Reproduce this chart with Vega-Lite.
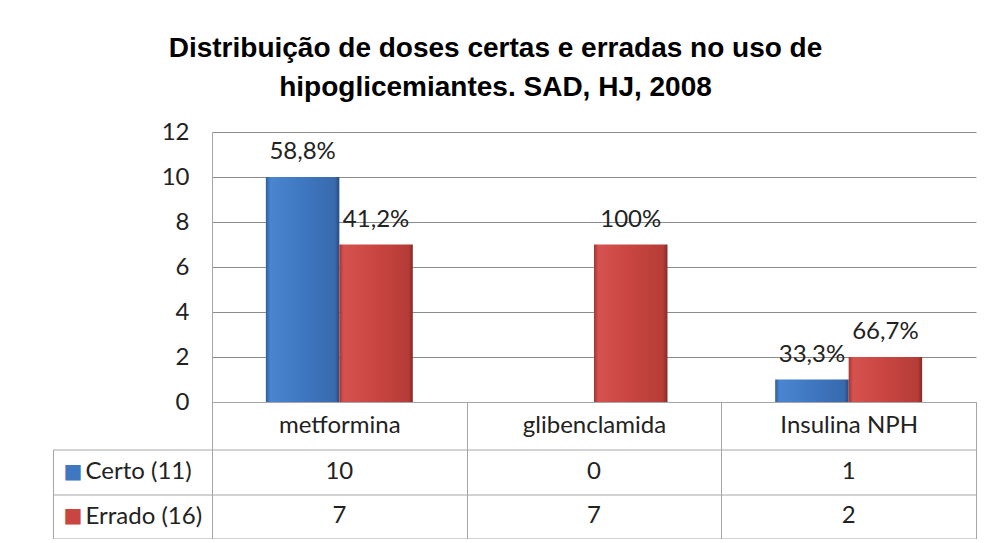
{
  "$schema": "https://vega.github.io/schema/vega-lite/v6.json",
  "background": "white",
  "padding": {"left": 52, "top": 35, "right": 10, "bottom": 0},
  "title": {
    "text": ["Distribuição de doses certas e erradas no uso de", "hipoglicemiantes. SAD, HJ, 2008"],
    "font": "Liberation Sans",
    "fontSize": 28,
    "fontWeight": "bold",
    "color": "#000000",
    "anchor": "middle",
    "lineHeight": 39,
    "dx": -19,
    "offset": 18
  },
  "data": {
    "values": [
      {"cat": "metformina", "serie": "Certo", "legenda": "Certo (11)", "valor": 10, "pct": "58,8%"},
      {"cat": "metformina", "serie": "Errado", "legenda": "Errado (16)", "valor": 7, "pct": "41,2%"},
      {"cat": "glibenclamida", "serie": "Certo", "legenda": "Certo (11)", "valor": 0, "pct": ""},
      {"cat": "glibenclamida", "serie": "Errado", "legenda": "Errado (16)", "valor": 7, "pct": "100%"},
      {"cat": "Insulina NPH", "serie": "Certo", "legenda": "Certo (11)", "valor": 1, "pct": "33,3%"},
      {"cat": "Insulina NPH", "serie": "Errado", "legenda": "Errado (16)", "valor": 2, "pct": "66,7%"}
    ]
  },
  "bounds": "flush",
  "spacing": 47.5,
  "vconcat": [
    {
      "width": 764,
      "height": 270,
      "encoding": {
        "x": {
          "field": "cat", "type": "nominal",
          "sort": ["metformina", "glibenclamida", "Insulina NPH"],
          "scale": {"type": "band", "paddingInner": 0, "paddingOuter": 0},
          "axis": {
            "title": null, "labelAngle": 0, "tickBand": "extent", "tickSize": 47.5,
            "tickColor": "#a6a6a6", "domainColor": "#a6a6a6", "labelPadding": -36,
            "labelFont": "Lato", "labelFontSize": 24, "labelColor": "#222222", "grid": false
          }
        },
        "xOffset": {"field": "serie", "type": "nominal", "scale": {"domain": ["Certo", "Errado"], "paddingInner": 0, "paddingOuter": 0.733}},
        "y": {
          "field": "valor", "type": "quantitative",
          "scale": {"domain": [0, 12]},
          "axis": {
            "title": null, "values": [0, 2, 4, 6, 8, 10, 12], "ticks": false, "labelPadding": 23,
            "labelFont": "Lato", "labelFontSize": 24, "labelColor": "#222222",
            "grid": true, "gridColor": "#8c8c8c", "domainColor": "#a6a6a6"
          }
        }
      },
      "layer": [
        {
          "transform": [{"filter": "datum.serie === 'Certo'"}],
          "mark": {
            "type": "bar",
            "color": {
              "gradient": "linear", "x1": 0, "y1": 0, "x2": 1, "y2": 0,
              "stops": [
                {"offset": 0, "color": "#2f5d9c"},
                {"offset": 0.06, "color": "#4a85d1"},
                {"offset": 0.5, "color": "#3f77c1"},
                {"offset": 0.94, "color": "#386aae"},
                {"offset": 1, "color": "#264a80"}
              ]
            }
          }
        },
        {
          "transform": [{"filter": "datum.serie === 'Errado'"}],
          "mark": {
            "type": "bar",
            "color": {
              "gradient": "linear", "x1": 0, "y1": 0, "x2": 1, "y2": 0,
              "stops": [
                {"offset": 0, "color": "#a33532"},
                {"offset": 0.06, "color": "#d6524e"},
                {"offset": 0.5, "color": "#c84541"},
                {"offset": 0.94, "color": "#b63c38"},
                {"offset": 1, "color": "#862825"}
              ]
            }
          }
        },
        {
          "transform": [{"filter": "datum.pct !== ''"}],
          "mark": {"type": "text", "baseline": "middle", "dy": -25, "font": "Lato", "fontSize": 24, "color": "#222222"},
          "encoding": {"text": {"field": "pct", "type": "nominal"}}
        }
      ]
    },
    {
      "width": 764,
      "height": 89,
      "encoding": {
        "x": {
          "field": "cat", "type": "nominal",
          "sort": ["metformina", "glibenclamida", "Insulina NPH"],
          "scale": {"type": "band", "paddingInner": 0, "paddingOuter": 0},
          "axis": {
            "title": null, "labels": false, "ticks": false, "domain": false,
            "grid": true, "tickBand": "extent", "gridColor": "#a6a6a6"
          }
        }
      },
      "layer": [
        {
          "mark": {"type": "text", "baseline": "middle", "font": "Lato", "fontSize": 24, "color": "#222222"},
          "encoding": {
            "text": {"field": "valor", "type": "quantitative"},
            "y": {
              "field": "legenda", "type": "nominal",
              "sort": ["Certo (11)", "Errado (16)"],
              "scale": {"type": "band", "paddingInner": 0, "paddingOuter": 0},
              "axis": {
                "title": null, "orient": "left", "tickBand": "extent", "tickSize": 159,
                "tickColor": "#a6a6a6", "domain": false, "grid": true, "gridColor": "#a6a6a6",
                "labelAlign": "left", "labelPadding": -32, "labelFont": "Lato",
                "labelFontSize": 24, "labelColor": "#222222"
              }
            }
          }
        },
        {
          "mark": {"type": "text", "opacity": 0},
          "encoding": {
            "text": {"field": "valor", "type": "quantitative"},
            "y": {
              "field": "legenda", "type": "nominal",
              "sort": ["Certo (11)", "Errado (16)"],
              "axis": {
                "title": null, "orient": "left", "offset": 159, "ticks": false, "tickSize": 0,
                "domain": true, "domainColor": "#a6a6a6", "grid": false,
                "labelExpr": "'■'", "labelAlign": "left", "labelPadding": -10,
                "labelFont": "DejaVu Sans", "labelFontSize": 20,
                "labelColor": {"condition": {"test": "datum.value === 'Certo (11)'", "value": "#3f77c1"}, "value": "#c84541"}
              }
            }
          }
        }
      ],
      "resolve": {"axis": {"y": "independent"}}
    }
  ],
  "config": {
    "view": {"stroke": null},
    "axis": {"domainWidth": 1, "gridWidth": 1, "tickWidth": 1}
  }
}
